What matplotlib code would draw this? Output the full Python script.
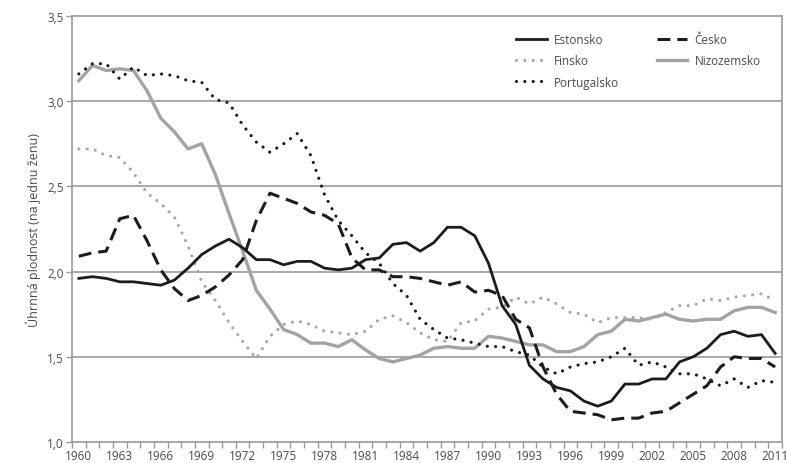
import numpy as np
import matplotlib.pyplot as plt
from matplotlib.ticker import FixedLocator, FuncFormatter

# ── Data ────────────────────────────────────────────────────
years = list(range(1960, 2012))

estonsko = [1.96, 1.97, 1.96, 1.94, 1.94, 1.93, 1.92, 1.95, 2.02, 2.10,
            2.15, 2.19, 2.14, 2.07, 2.07, 2.04, 2.06, 2.06, 2.02, 2.01,
            2.02, 2.07, 2.08, 2.16, 2.17, 2.12, 2.17, 2.26, 2.26, 2.21,
            2.05, 1.80, 1.69, 1.45, 1.37, 1.32, 1.30, 1.24, 1.21, 1.24,
            1.34, 1.34, 1.37, 1.37, 1.47, 1.50, 1.55, 1.63, 1.65, 1.62,
            1.63, 1.52]

cesko = [2.09, 2.11, 2.12, 2.31, 2.33, 2.18, 2.01, 1.90, 1.83, 1.86,
         1.91, 1.98, 2.07, 2.30, 2.46, 2.43, 2.40, 2.35, 2.33, 2.28,
         2.08, 2.01, 2.01, 1.97, 1.97, 1.96, 1.94, 1.92, 1.94, 1.88,
         1.89, 1.86, 1.72, 1.67, 1.44, 1.28, 1.18, 1.17, 1.16, 1.13,
         1.14, 1.14, 1.17, 1.18, 1.23, 1.28, 1.33, 1.44, 1.50, 1.49,
         1.49, 1.44]

finsko = [2.72, 2.72, 2.68, 2.67, 2.58, 2.46, 2.40, 2.32, 2.15, 1.94,
          1.83, 1.70, 1.59, 1.49, 1.62, 1.69, 1.71, 1.69, 1.65, 1.64,
          1.63, 1.65, 1.72, 1.74, 1.70, 1.64, 1.60, 1.59, 1.70, 1.71,
          1.78, 1.79, 1.85, 1.81, 1.85, 1.81, 1.76, 1.75, 1.70, 1.73,
          1.73, 1.73, 1.72, 1.76, 1.80, 1.80, 1.84, 1.83, 1.85, 1.86,
          1.87, 1.83]

portugalsko = [3.16, 3.22, 3.22, 3.13, 3.20, 3.15, 3.16, 3.15, 3.12, 3.11,
               3.01, 2.99, 2.86, 2.76, 2.70, 2.75, 2.81, 2.68, 2.45, 2.30,
               2.21, 2.11, 2.05, 1.93, 1.86, 1.72, 1.66, 1.61, 1.60, 1.58,
               1.56, 1.56, 1.53, 1.51, 1.44, 1.40, 1.44, 1.46, 1.47, 1.50,
               1.55, 1.45, 1.47, 1.44, 1.40, 1.40, 1.37, 1.33, 1.37, 1.32,
               1.36, 1.35]

nizozemsko = [3.12, 3.21, 3.18, 3.19, 3.18, 3.06, 2.90, 2.82, 2.72, 2.75,
              2.57, 2.34, 2.12, 1.89, 1.78, 1.66, 1.63, 1.58, 1.58, 1.56,
              1.60, 1.54, 1.49, 1.47, 1.49, 1.51, 1.55, 1.56, 1.55, 1.55,
              1.62, 1.61, 1.59, 1.57, 1.57, 1.53, 1.53, 1.56, 1.63, 1.65,
              1.72, 1.71, 1.73, 1.75, 1.72, 1.71, 1.72, 1.72, 1.77, 1.79,
              1.79, 1.76]

yticks = [1.0, 1.5, 2.0, 2.5, 3.0, 3.5]
xticks = list(range(1960, 2012, 3))

# ── Style ───────────────────────────────────────────────────
plt.rcParams['font.family'] = ['Open Sans', 'DejaVu Sans']
text_col = '#4a4a4a'
axis_col = '#9a9a9a'
black = '#1c1c1c'

fig = plt.figure(figsize=(7.87, 4.64), dpi=100)
ax = fig.add_axes([0.0915, 0.0453, 0.9021, 0.9181])

dot = (0, (0.01, 2.6))
ax.plot(years, nizozemsko, color='#a3a3a3', lw=2.4, label='Nizozemsko',
        solid_joinstyle='round')
ax.plot(years, finsko, color='#a8a8a8', lw=2.3, linestyle=dot,
        dash_capstyle='round', label='Finsko')
ax.plot(years, portugalsko, color=black, lw=2.3, linestyle=dot,
        dash_capstyle='round', label='Portugalsko')
ax.plot(years, cesko, color=black, lw=2.2, linestyle=(0, (4.2, 2.3)),
        label='Česko')
ax.plot(years, estonsko, color=black, lw=2.0, label='Estonsko',
        solid_joinstyle='round')

ax.set_xlim(1959.5, 2011.5)
ax.set_ylim(1.0, 3.5)

# grid
for v in yticks[1:-1]:
    ax.axhline(v, color=axis_col, lw=1.2, zorder=0)
for s in ax.spines.values():
    s.set_color(axis_col)
    s.set_linewidth(1.2)

ax.set_yticks(yticks)
ax.yaxis.set_major_formatter(FuncFormatter(lambda v, p: f'{v:.1f}'.replace('.', ',')))
ax.tick_params(axis='y', length=4, width=1, color=axis_col, labelsize=8.5,
               labelcolor=text_col, pad=2)

ax.xaxis.set_major_locator(FixedLocator(xticks))
ax.xaxis.set_minor_locator(FixedLocator(np.arange(1959.5, 2012, 1)))
ax.tick_params(axis='x', which='major', length=0, labelsize=8.5,
               labelcolor=text_col, pad=5)
ax.tick_params(axis='x', which='minor', length=4, width=1, color=axis_col)

ax.set_ylabel('Úhrnná plodnost (na jednu ženu)', fontsize=9, color=text_col,
              labelpad=4)

# legend: column 1 Estonsko/Finsko/Portugalsko, column 2 Česko/Nizozemsko
h = {l.get_label(): l for l in ax.get_lines() if not l.get_label().startswith('_')}
order = ['Estonsko', 'Finsko', 'Portugalsko', 'Česko', 'Nizozemsko']
leg = ax.legend([h[k] for k in order], order, ncol=2, frameon=False,
                loc='upper right', bbox_to_anchor=(0.985, 0.985),
                fontsize=8.5, handlelength=2.6, handletextpad=0.6,
                columnspacing=3.2, labelspacing=0.7)
for t in leg.get_texts():
    t.set_color(text_col)

fig.savefig('out.png', dpi=100)
